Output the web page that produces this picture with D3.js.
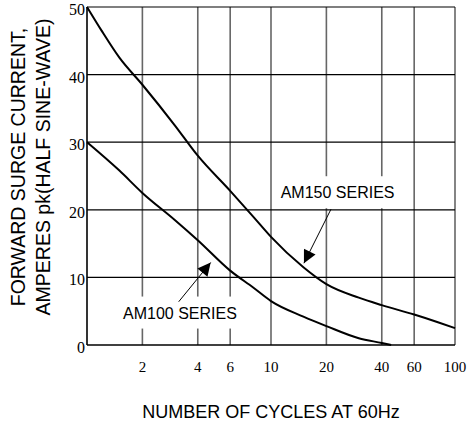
<!DOCTYPE html>
<html>
<head>
<meta charset="utf-8">
<script src="https://cdn.jsdelivr.net/npm/d3@7"></script>
<style>
  body { margin: 0; background: #fff; }
</style>
</head>
<body>
<svg id="chart" width="469" height="425"></svg>
<script>
// ticks
const xTicks = [2, 4, 6, 10, 20, 40, 60, 100]
const yTicks = [0, 10, 20, 30, 40, 50]

// curves (cycles, amperes)
const am150 = [[1, 50], [1.2, 46.5], [1.5, 42.5], [2, 38.5], [3, 32.5], [4, 28], [6, 22.8],
  [8, 19], [10, 16], [15, 11.5], [20, 9], [30, 7], [40, 5.9], [60, 4.5], [80, 3.4], [100, 2.5]]
const am100 = [[1, 30], [1.5, 25.8], [2, 22.5], [3, 18.5], [4, 15.5], [6, 11], [8, 8.5],
  [10, 6.5], [15, 4.2], [20, 2.8], [30, 1], [40, 0.3], [45, 0]]

// callouts: label centre, arrow start, arrow tip (data units)
const labels = [
  { text: 'AM150 SERIES', at: [23, 22.6], w: 129, from: [21.2, 20.1], tip: [15.1, 12.1] },
  { text: 'AM100 SERIES', at: [3.2, 4.8], w: 122, from: [3.15, 6.4], tip: [4.7, 12.2] }
]

const margin = { top: 7, right: 14, bottom: 80, left: 87 }
const width = 469 - margin.left - margin.right
const height = 425 - margin.top - margin.bottom

const svg = d3.select('#chart')

const x = d3.scaleLog()
  .domain([1, 100])
  .range([margin.left, margin.left + width])

const y = d3.scaleLinear()
  .domain([0, 50])
  .range([margin.top + height, margin.top])

//grid vertical
svg.append('g')
  .selectAll('line')
  .data(xTicks)
  .join('line')
  .attr('x1', d => x(d)).attr('x2', d => x(d))
  .attr('y1', y(0)).attr('y2', y(50))
  .attr('stroke', '#666')
  .attr('stroke-width', 1.6)

//grid horizontal
svg.append('g')
  .selectAll('line')
  .data(yTicks.slice(1))
  .join('line')
  .attr('x1', x(1)).attr('x2', x(100))
  .attr('y1', d => y(d)).attr('y2', d => y(d))
  .attr('stroke', '#000')
  .attr('stroke-width', 1.2)

//axis lines
svg.append('line')
  .attr('x1', x(1)).attr('x2', x(1))
  .attr('y1', y(0)).attr('y2', y(50))
  .attr('stroke', '#000').attr('stroke-width', 1.6)
svg.append('line')
  .attr('x1', x(1)).attr('x2', x(100))
  .attr('y1', y(0)).attr('y2', y(0))
  .attr('stroke', '#000').attr('stroke-width', 1.6)

//tick labels
svg.append('g')
  .selectAll('text')
  .data(yTicks)
  .join('text')
  .attr('x', x(1) - 2)
  .attr('y', d => y(d) + 8)
  .attr('text-anchor', 'end')
  .attr('font-family', 'Liberation Serif, serif')
  .attr('font-size', 16)
  .text(d => d)

svg.append('g')
  .selectAll('text')
  .data(xTicks)
  .join('text')
  .attr('x', d => x(d))
  .attr('y', y(0) + 27)
  .attr('text-anchor', 'middle')
  .attr('font-family', 'Liberation Serif, serif')
  .attr('font-size', 15)
  .text(d => d)

//curves
const line = d3.line()
  .x(d => x(d[0]))
  .y(d => y(d[1]))
  .curve(d3.curveMonotoneX)

svg.append('g')
  .selectAll('path')
  .data([am150, am100])
  .join('path')
  .attr('d', line)
  .attr('fill', 'none')
  .attr('stroke', '#000')
  .attr('stroke-width', 2)

//labels with arrows
svg.append('defs').append('marker')
  .attr('id', 'arrow')
  .attr('viewBox', '0 0 10 10')
  .attr('refX', 10).attr('refY', 5)
  .attr('markerWidth', 15).attr('markerHeight', 13)
  .attr('markerUnits', 'userSpaceOnUse')
  .attr('orient', 'auto')
  .append('path')
  .attr('d', 'M0,0 L10,5 L0,10 z')
  .attr('fill', '#000')

const lab = svg.append('g')
  .selectAll('g')
  .data(labels)
  .join('g')

lab.append('rect')
  .attr('x', d => x(d.at[0]) - d.w / 2)
  .attr('y', d => y(d.at[1]) - 16)
  .attr('width', d => d.w)
  .attr('height', 32)
  .attr('fill', '#fff')

lab.append('text')
  .attr('x', d => x(d.at[0]))
  .attr('y', d => y(d.at[1]) + 6)
  .attr('text-anchor', 'middle')
  .attr('font-family', 'Liberation Sans, Arial, sans-serif')
  .attr('font-size', 16)
  .text(d => d.text)

lab.append('line')
  .attr('x1', d => x(d.from[0])).attr('y1', d => y(d.from[1]))
  .attr('x2', d => x(d.tip[0])).attr('y2', d => y(d.tip[1]))
  .attr('stroke', '#000')
  .attr('stroke-width', 1)
  .attr('marker-end', 'url(#arrow)')

//axis titles
svg.append('text')
  .attr('x', 271)
  .attr('y', 418)
  .attr('text-anchor', 'middle')
  .attr('font-family', 'Liberation Sans, Arial, sans-serif')
  .attr('font-size', 18)
  .text('NUMBER OF CYCLES AT 60Hz')

const yt = svg.append('text')
  .attr('transform', 'translate(25, 167) rotate(-90)')
  .attr('text-anchor', 'middle')
  .attr('font-family', 'Liberation Sans, Arial, sans-serif')
  .attr('font-size', 19.5)
yt.append('tspan').attr('x', 0).attr('dy', 0).text('FORWARD SURGE CURRENT,')
yt.append('tspan').attr('x', 0).attr('dy', 25).text('AMPERES pk(HALF SINE-WAVE)')
</script>
</body>
</html>
